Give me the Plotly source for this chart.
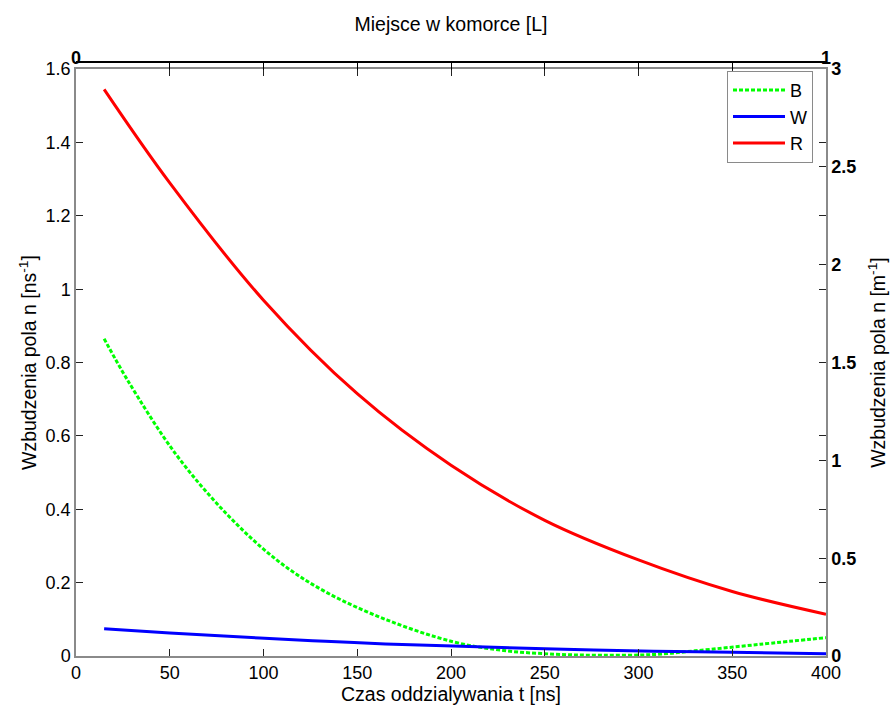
import plotly.graph_objects as go

# Time [ns]
t_R = [15, 50, 100, 150, 200, 250, 300, 350, 400]
v_R = [1.545, 1.29, 0.97, 0.715, 0.52, 0.37, 0.262, 0.176, 0.114]

t_B = [15, 27.5, 53, 80, 107, 133, 166, 201, 228, 255, 280, 308, 330, 365, 400]
v_B = [0.865, 0.752, 0.552, 0.389, 0.262, 0.175, 0.098, 0.039, 0.015, 0.005, 0.002, 0.004, 0.014, 0.032, 0.05]

t_W = [15, 50, 98, 133, 165, 201, 250, 308, 350, 400]
v_W = [0.074, 0.063, 0.049, 0.040, 0.033, 0.027, 0.020, 0.013, 0.010, 0.006]

x_ticks = [0, 50, 100, 150, 200, 250, 300, 350, 400]
y_ticks = [0, 0.2, 0.4, 0.6, 0.8, 1.0, 1.2, 1.4, 1.6]
y2_ticks = [0, 0.5, 1, 1.5, 2, 2.5, 3]
x2_ticks = [0, 1]

FONT = "Liberation Sans, Arial, sans-serif"
GREY = "#8a8a8a"
TFONT = dict(family=FONT, size=19.5, color="black")

fig = go.Figure()
fig.add_trace(go.Scatter(x=t_B, y=v_B, name="B", mode="lines", line_shape="spline",
                         line=dict(color="#00ff00", width=3, dash="4px,2px")))
fig.add_trace(go.Scatter(x=t_W, y=v_W, name="W", mode="lines", line_shape="spline",
                         line=dict(color="#0000ff", width=3)))
fig.add_trace(go.Scatter(x=t_R, y=v_R, name="R", mode="lines", line_shape="spline",
                         line=dict(color="#ff0000", width=3)))
# secondary (top / right) axes
fig.add_trace(go.Scatter(x=[], y=[], xaxis="x2", yaxis="y2", showlegend=False, hoverinfo="skip"))

fig.update_layout(
    width=893, height=715,
    margin=dict(l=76, r=67, t=62, b=59),
    paper_bgcolor="white", plot_bgcolor="white",
    font=dict(family=FONT, size=18, color="black"),
    showlegend=True,
    legend=dict(x=0.868, y=0.985, xanchor="left", yanchor="top",
                bgcolor="white", bordercolor=GREY, borderwidth=1,
                font=dict(family=FONT, size=18), itemwidth=52, tracegroupgap=4),
    xaxis=dict(range=[0, 400], tickvals=x_ticks, ticks="inside", ticklen=7,
               tickcolor="#222", showgrid=False, zeroline=False, automargin=False,
               showline=True, linecolor=GREY, linewidth=1.5, mirror="ticks",
               title=dict(text="Czas oddzialywania t [ns]", standoff=3, font=TFONT),
               domain=[0, 1]),
    yaxis=dict(range=[0, 1.6], tickvals=y_ticks, ticks="inside", ticklen=7,
               tickcolor="#222", showgrid=False, zeroline=False, automargin=False,
               showline=True, linecolor=GREY, linewidth=1.5, mirror="ticks",
               title=dict(text="Wzbudzenia pola n [ns<sup>-1</sup>]", standoff=4, font=TFONT),
               domain=[0, 0.988]),
    xaxis2=dict(range=[0, 1], tickvals=x2_ticks, overlaying="x", automargin=False,
                side="top", anchor="free", position=1.0, ticks="inside", ticklen=7,
                tickcolor="black", showgrid=False, zeroline=False,
                showline=True, linecolor="black", linewidth=1.5,
                minor=dict(ticks="inside", ticklen=7, tick0=0, dtick=0.125,
                           tickcolor="black", showgrid=False),
                tickfont=dict(family=FONT, size=18, weight="bold"), ticklabelstandoff=-10,
                title=dict(text="Miejsce w komorce [L]", standoff=10, font=TFONT)),
    yaxis2=dict(range=[0, 3], tickvals=y2_ticks, overlaying="y", side="right",
                anchor="x", ticks="inside", ticklen=7, tickcolor="#222", automargin=False,
                showgrid=False, zeroline=False, showline=True, linecolor=GREY,
                linewidth=1.5, tickfont=dict(family=FONT, size=18, weight="bold"),
                title=dict(text="Wzbudzenia pola n [m<sup>-1</sup>]", standoff=16, font=TFONT)),
)

fig.write_html("out.html")
